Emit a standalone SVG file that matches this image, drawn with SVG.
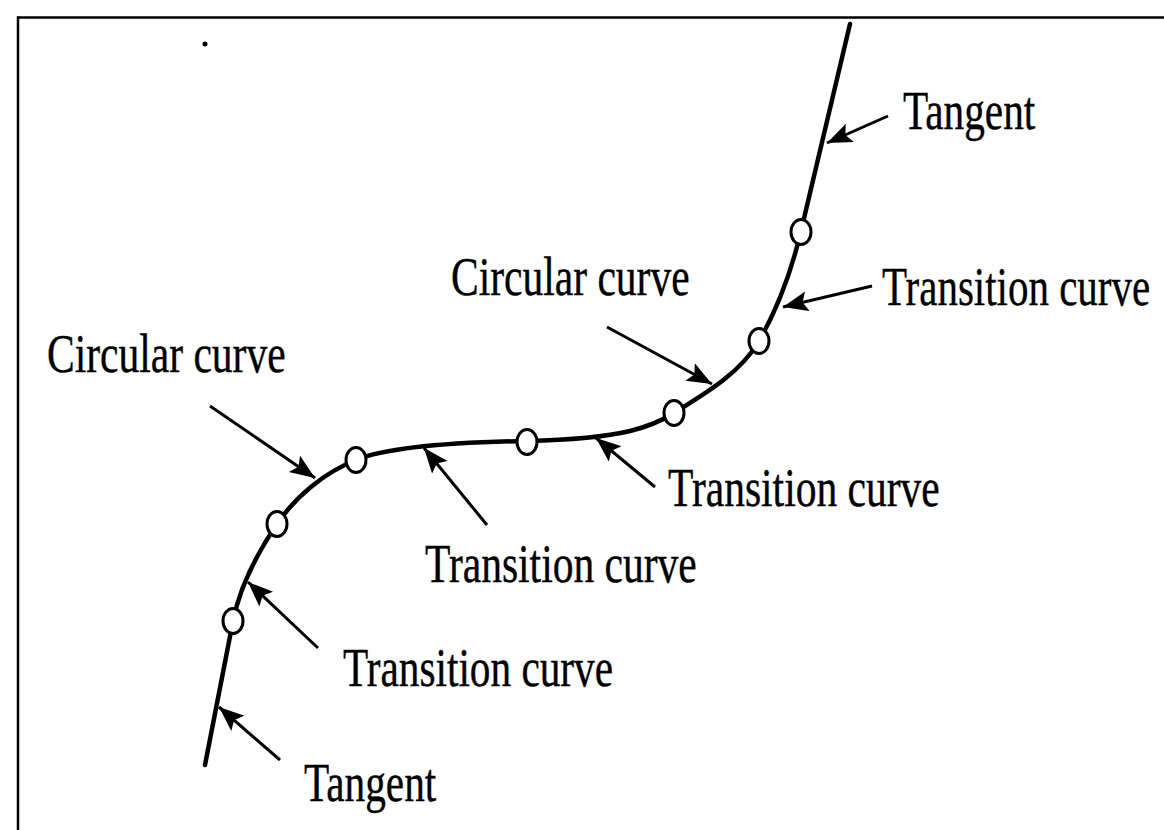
<svg xmlns="http://www.w3.org/2000/svg" width="1164" height="830" viewBox="0 0 1164 830">
  <style>
    .lbl { font-family: "Liberation Serif", "Times New Roman", serif; font-size: 55px; fill: #000; stroke: #000; stroke-width: 0.4; }
    .road { fill: none; stroke: #000; stroke-width: 4.5; stroke-linecap: round; stroke-linejoin: round; }
    .pt { fill: #fff; stroke: #000; stroke-width: 3; }
    .arr { fill: none; stroke: #000; stroke-width: 3; marker-end: url(#ah); }
    .frame { stroke: #000; stroke-width: 2.5; fill: none; }
  </style>
  <defs>
    <marker id="ah" markerUnits="userSpaceOnUse" markerWidth="28" markerHeight="22" refX="25" refY="10" orient="auto">
      <path d="M0,0 L25,10 L0,20 L5,10 z" fill="#000"/>
    </marker>
  </defs>
  <rect width="1164" height="830" fill="#fff"/>
  <g id="frame">
    <line class="frame" x1="17" y1="17.5" x2="1164" y2="17.5"/>
    <line class="frame" x1="18" y1="16.5" x2="18" y2="830"/>
    <circle cx="205" cy="44" r="2.5" fill="#000"/>
  </g>
  <g id="alignment">
    <path class="road" d="M850,24 L801,231 C792,269 778.5,307 759,341 C740.5,373 705.5,393.4 674,413 C653,426 627,438.5 527,441 C470,442 393,445 356,460 C324.4,472.6 296,495.8 277,524 C257,553.5 240,586 233,621 L205,765"/>
  </g>
  <g id="points">
    <ellipse class="pt" cx="801" cy="232" rx="10" ry="12.5"/>
    <ellipse class="pt" cx="759" cy="341" rx="10" ry="12.5"/>
    <ellipse class="pt" cx="674" cy="413" rx="10" ry="12.5"/>
    <ellipse class="pt" cx="527" cy="442" rx="10" ry="12.5"/>
    <ellipse class="pt" cx="356" cy="460" rx="10" ry="12.5"/>
    <ellipse class="pt" cx="277" cy="524" rx="10" ry="12.5"/>
    <ellipse class="pt" cx="233" cy="621" rx="10" ry="12.5"/>
  </g>
  <g id="connectors">
    <line class="arr" x1="888" y1="116" x2="827" y2="143"/>
    <line class="arr" x1="872" y1="286" x2="783" y2="307"/>
    <line class="arr" x1="607" y1="327" x2="712" y2="384"/>
    <line class="arr" x1="655" y1="487" x2="596" y2="438"/>
    <line class="arr" x1="487" y1="525" x2="424" y2="448"/>
    <line class="arr" x1="210" y1="406" x2="315" y2="478"/>
    <line class="arr" x1="318" y1="648" x2="248" y2="582"/>
    <line class="arr" x1="280" y1="760" x2="219" y2="707"/>
  </g>
  <g id="label-tangent-top"><text class="lbl" transform="translate(903,129) scale(0.75,1)">Tangent</text></g>
  <g id="label-transition-1"><text class="lbl" transform="translate(882,305) scale(0.745,1)">Transition curve</text></g>
  <g id="label-circular-1"><text class="lbl" transform="translate(451,295) scale(0.755,1)">Circular curve</text></g>
  <g id="label-circular-2"><text class="lbl" transform="translate(47,372) scale(0.755,1)">Circular curve</text></g>
  <g id="label-transition-2"><text class="lbl" transform="translate(668,506) scale(0.755,1)">Transition curve</text></g>
  <g id="label-transition-3"><text class="lbl" transform="translate(425,582) scale(0.755,1)">Transition curve</text></g>
  <g id="label-transition-4"><text class="lbl" transform="translate(343,686) scale(0.75,1)">Transition curve</text></g>
  <g id="label-tangent-bottom"><text class="lbl" transform="translate(304,801) scale(0.75,1)">Tangent</text></g>
</svg>
